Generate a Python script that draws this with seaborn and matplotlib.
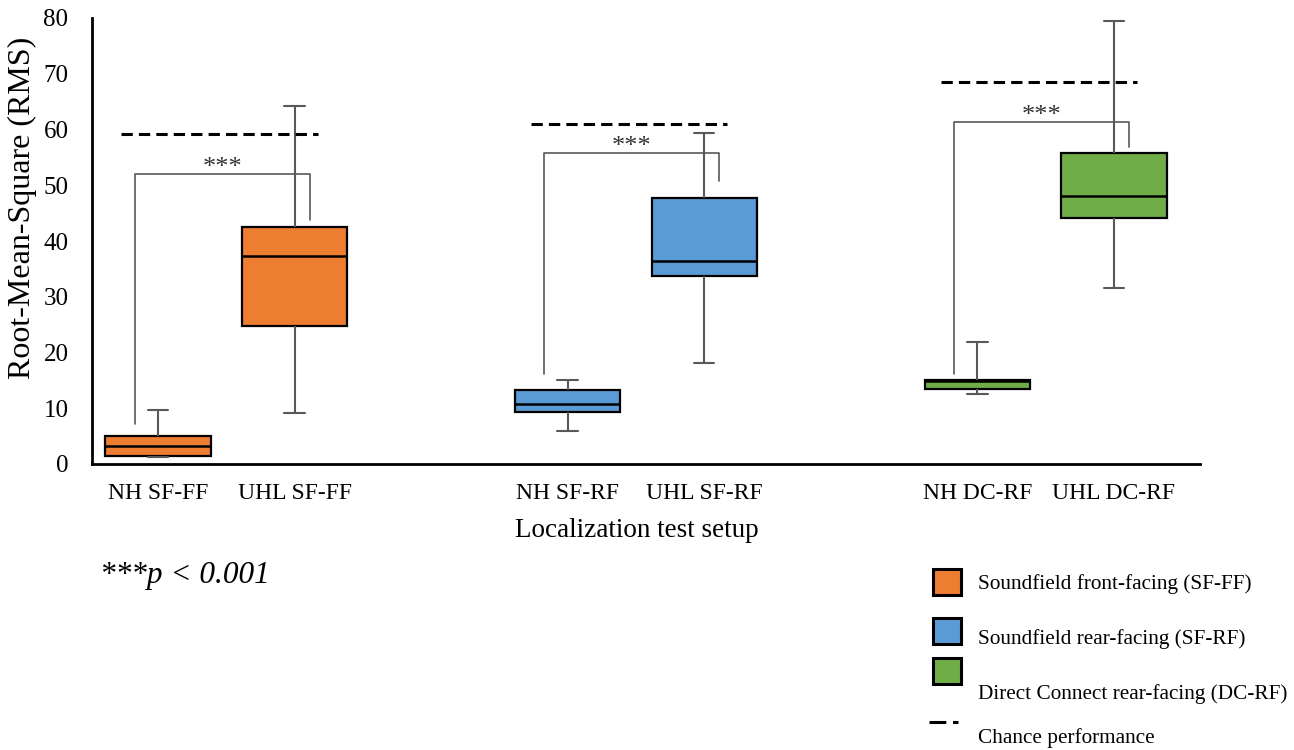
import numpy as np
import pandas as pd
import matplotlib
matplotlib.use("Agg")
import matplotlib.pyplot as plt
from matplotlib.patches import Rectangle
from matplotlib.lines import Line2D
import seaborn as sns

# Conditions (listener group + test setup) and their setup family
conditions = ["NH SF-FF", "UHL SF-FF", "NH SF-RF", "UHL SF-RF", "NH DC-RF", "UHL DC-RF"]
setups = ["SF-FF", "SF-FF", "SF-RF", "SF-RF", "DC-RF", "DC-RF"]
positions = [0, 1, 3, 4, 6, 7]

# Five-number summaries of the RMS error per condition
whisker_low = [1.3, 9.2, 5.9, 18.2, 12.5, 31.5]
quartile_1 = [1.5, 24.8, 9.4, 33.8, 13.45, 44.2]
medians = [3.2, 37.3, 10.7, 36.5, 14.9, 48.0]
quartile_3 = [5.1, 42.5, 13.3, 47.7, 15.1, 55.8]
whisker_high = [9.7, 64.2, 15.1, 59.4, 21.9, 79.5]

# Chance performance per setup and significance brackets (NH vs UHL)
chance_levels = [59.2, 61.0, 68.5]
bracket_tops = [52.0, 55.7, 61.4]
bracket_left_ends = [7.1, 16.1, 16.1]
bracket_right_ends = [43.8, 50.8, 56.9]
significance = ["***", "***", "***"]

legend_labels = [
    "Soundfield front-facing (SF-FF)",
    "Soundfield rear-facing (SF-RF)",
    "Direct Connect rear-facing (DC-RF)",
    "Chance performance",
]
palette = {"SF-FF": "#ED7D31", "SF-RF": "#5B9BD5", "DC-RF": "#70AD47"}

# Long table: each condition carries its five summary values so the
# box statistics reproduce them exactly (whiskers span min..max)
rows = []
for cond, setup, pos, lo, q1, med, q3, hi in zip(
    conditions, setups, positions, whisker_low, quartile_1, medians, quartile_3, whisker_high
):
    for v in (lo, q1, med, q3, hi):
        rows.append({"condition": cond, "setup": setup, "pos": pos, "rms": v})
df = pd.DataFrame(rows)

sns.set_style("white")
plt.rcParams["font.family"] = ["Liberation Serif", "DejaVu Serif"]
for key in ("text.color", "axes.labelcolor", "xtick.color", "ytick.color"):
    plt.rcParams[key] = "black"

W, H = 1294, 750
fig = plt.figure(figsize=(W / 100, H / 100), dpi=100)
ax_left, ax_right, ax_top, ax_bottom = 92, 1200, 18, 464
ax = fig.add_axes([ax_left / W, 1 - ax_bottom / H, (ax_right - ax_left) / W, (ax_bottom - ax_top) / H])

whisker_style = {"color": "#595959", "linewidth": 1.5}
sns.boxplot(
    data=df, x="pos", y="rms", hue="setup", palette=palette,
    native_scale=True, dodge=False, width=0.77, whis=(0, 100),
    saturation=1, linecolor="black", linewidth=1.6, legend=False,
    whiskerprops=whisker_style, capprops=whisker_style,
    medianprops={"color": "black", "linewidth": 1.8},
    capwidths=0.15, ax=ax,
)

# Chance-level dashed lines and significance brackets for each setup
for g in range(3):
    c_nh, c_uhl = positions[2 * g], positions[2 * g + 1]
    ax.plot([c_nh - 0.27, c_uhl + 0.17], [chance_levels[g]] * 2,
            color="black", linewidth=2.2, dashes=(3.7, 2.0), solid_capstyle="butt")
    xl, xr = c_nh - 0.17, c_uhl + 0.11
    ax.plot([xl, xl, xr, xr],
            [bracket_left_ends[g], bracket_tops[g], bracket_tops[g], bracket_right_ends[g]],
            color="#595959", linewidth=1.2)
    ax.text((xl + xr) / 2, bracket_tops[g] - 0.9, significance[g], ha="center", va="bottom",
            fontsize=19, color="#333333")

ax.set_xlim(-0.483, 7.63)
ax.set_ylim(0, 80)
ax.set_yticks(np.arange(0, 81, 10))
ax.set_xticks(positions, conditions)
ax.tick_params(axis="x", length=0, pad=14, labelsize=17)
ax.tick_params(axis="y", direction="in", length=5, width=1.5, pad=17, labelsize=18)

for side in ("top", "right"):
    ax.spines[side].set_visible(False)
for side in ("left", "bottom"):
    ax.spines[side].set_linewidth(2.0)
    ax.spines[side].set_color("black")

ax.set_xlabel("Localization test setup", fontsize=19.5, va="center")
ax.xaxis.set_label_coords(0.492, -0.148)
ax.set_ylabel("Root-Mean-Square (RMS)", fontsize=23, va="center")
ax.yaxis.set_label_coords(-0.063, 0.575)

# p-value note
fig.text(100 / W, 1 - 575 / H, "***p < 0.001", fontsize=22.5, style="italic",
         va="center", ha="left")

# Legend drawn in figure pixels
def fx(px):
    return px / W

def fy(py):
    return 1 - py / H

square_tops = [569, 618, 658]
for top, setup in zip(square_tops, ["SF-FF", "SF-RF", "DC-RF"]):
    fig.add_artist(Rectangle((fx(933), fy(top + 26)), 28 / W, 26 / H, transform=fig.transFigure,
                             facecolor=palette[setup], edgecolor="black", linewidth=2.2))
fig.add_artist(Line2D([fx(929), fx(958)], [fy(722), fy(722)], transform=fig.transFigure,
                      color="black", linewidth=2.2, dashes=(5.5, 2.2), solid_capstyle="butt"))
for label, yc in zip(legend_labels, [584, 639, 694, 738]):
    fig.text(fx(978), fy(yc), label, fontsize=15.3, va="center", ha="left")

fig.savefig("out.png", dpi=100, facecolor="white")
